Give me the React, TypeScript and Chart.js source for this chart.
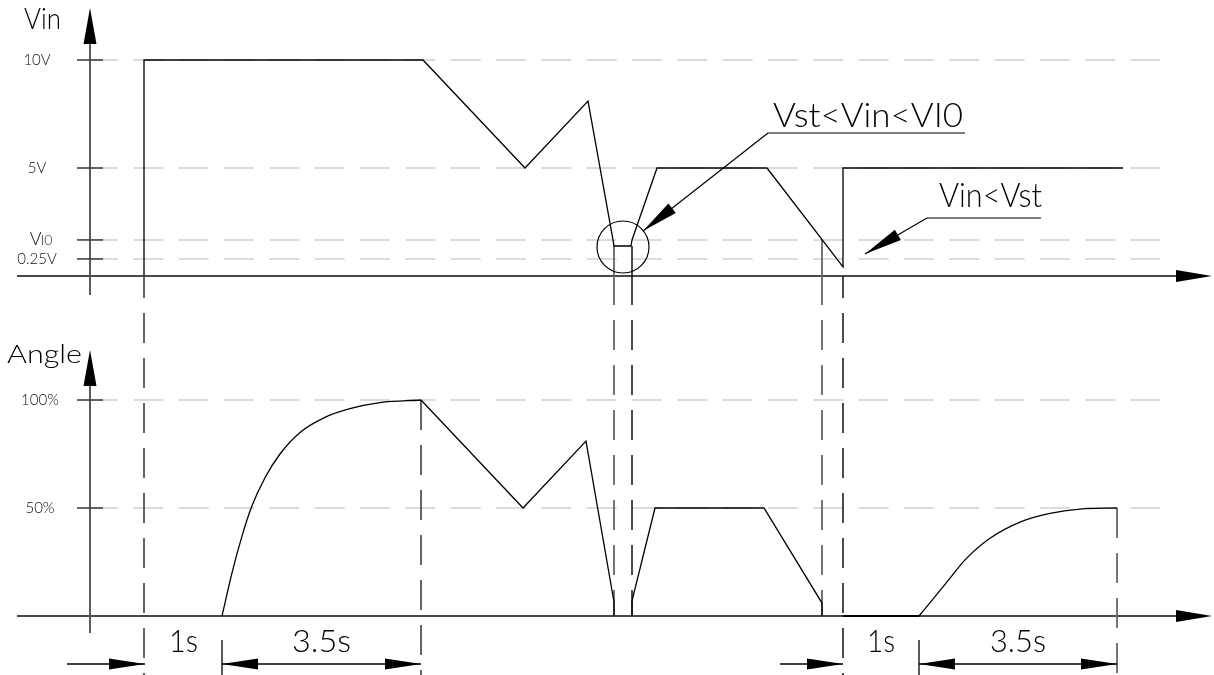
import React, { useEffect, useRef } from 'react';
import { Chart, registerables } from 'chart.js';

Chart.register(...registerables);

const W = 1214;
const H = 675;

// ---------- data (time in drawing units, Vin in drawing volts, Angle in %) ----------
const vinTime = [144, 144, 423, 525, 588, 613, 614, 631, 632, 657, 767, 843, 843, 1123];
const vinVolts = [0, 10, 10, 5, 8.1, 1.67, 1.39, 1.39, 1.67, 5, 5, 0.42, 5, 5];

const angleRise1Time = [222, 232, 242, 252, 265, 280, 300, 325, 350, 380, 421];
const angleRise1Pct = [0, 20, 37, 51, 64, 75, 85, 92, 96, 98.8, 100];

const angleFallTime = [421, 523, 586, 614, 614];
const angleFallPct = [100, 50, 81, 6.5, 0];

const angleMidTime = [632, 632, 655, 764, 822, 822];
const angleMidPct = [0, 7, 50, 50, 6, 0];

const angleFlatTime = [843, 919];
const angleFlatPct = [0, 0];

const angleRise2Time = [919, 935, 950, 965, 990, 1020, 1050, 1080, 1117];
const angleRise2Pct = [0, 9, 17.5, 26, 36, 43.5, 47.5, 49.5, 50];

const vinTickValues = [10, 5, 1.67, 0.79];
const vinTickLabels = ['10V', '5V', 'VI0', '0.25V'];
const angleTickValues = [100, 50];
const angleTickLabels = ['100%', '50%'];

// drop (projection) lines
const dropTimes = [144, 421, 614, 632, 822, 843, 1117];

// dimension groups: [start, mid, end] times and labels
const dimGroups = [
  [145, 222, 421],
  [843, 919, 1117],
];
const dimLabels = ['1s', '3.5s'];

const AXIS_T = 90;
const FONT = 'Lato, Roboto, "DejaVu Sans", sans-serif';
const WEIGHT = 300;

function toPts(xs: number[], ys: number[]) {
  return xs.map((x, i) => ({ x, y: ys[i] }));
}

function seg(ctx: CanvasRenderingContext2D, x1: number, y1: number, x2: number, y2: number) {
  ctx.beginPath();
  ctx.moveTo(x1, y1);
  ctx.lineTo(x2, y2);
  ctx.stroke();
}

function arrowHead(ctx: CanvasRenderingContext2D, tx: number, ty: number, fx: number, fy: number, len: number, hw: number) {
  const dx = fx - tx;
  const dy = fy - ty;
  const d = Math.hypot(dx, dy) || 1;
  const ux = dx / d, uy = dy / d;
  const bx = tx + ux * len, by = ty + uy * len;
  const px = -uy * hw, py = ux * hw;
  ctx.beginPath();
  ctx.moveTo(tx, ty);
  ctx.lineTo(bx + px, by + py);
  ctx.lineTo(bx - px, by - py);
  ctx.closePath();
  ctx.fill();
}

function fitText(ctx: CanvasRenderingContext2D, text: string, left: number, baseline: number, size: number, width: number) {
  ctx.save();
  ctx.font = `${WEIGHT} ${size}px ${FONT}`;
  const w = ctx.measureText(text).width || 1;
  ctx.translate(left, baseline);
  ctx.scale(width / w, 1);
  ctx.textAlign = 'left';
  ctx.textBaseline = 'alphabetic';
  ctx.fillText(text, 0, 0);
  ctx.restore();
}

const drawingPlugin = {
  id: 'drawing',
  beforeDatasetsDraw(chart: any) {
    const ctx: CanvasRenderingContext2D = chart.ctx;
    const X = (t: number) => chart.scales.x.getPixelForValue(t);
    const V = (v: number) => chart.scales.yVin.getPixelForValue(v);
    const A = (a: number) => chart.scales.yAngle.getPixelForValue(a);
    const ax = X(AXIS_T);
    ctx.save();

    // grid lines
    ctx.strokeStyle = '#cfcfcf';
    ctx.lineWidth = 1.6;
    ctx.setLineDash([30, 15.33]);
    ctx.lineDashOffset = 0;
    const gy = [...vinTickValues.map(V), ...angleTickValues.map(A)];
    gy.forEach((y) => seg(ctx, X(88), y, X(1160), y));
    ctx.setLineDash([]);

    // tick marks
    ctx.strokeStyle = '#444';
    ctx.lineWidth = 1.6;
    gy.forEach((y) => seg(ctx, ax - 13, y, ax + 13, y));

    // tick labels
    ctx.fillStyle = '#111';
    ctx.textAlign = 'center';
    ctx.textBaseline = 'middle';
    vinTickValues.forEach((v, i) => {
      const y = V(v);
      const lab = vinTickLabels[i];
      if (lab === 'VI0') {
        ctx.font = `${WEIGHT} 18px ${FONT}`;
        const w1 = ctx.measureText('V').width;
        ctx.font = `${WEIGHT} 14px ${FONT}`;
        const w2 = ctx.measureText('I0').width;
        const left = 41.5 - (w1 + w2) / 2;
        ctx.textAlign = 'left';
        ctx.font = `${WEIGHT} 18px ${FONT}`;
        ctx.fillText('V', left, y - 1);
        ctx.font = `${WEIGHT} 14px ${FONT}`;
        ctx.fillText('I0', left + w1 - 1, y + 1);
        ctx.textAlign = 'center';
      } else {
        ctx.font = `${WEIGHT} 15px ${FONT}`;
        ctx.fillText(lab, 37, y);
      }
    });
    angleTickValues.forEach((a, i) => {
      ctx.font = `${WEIGHT} 15px ${FONT}`;
      ctx.fillText(angleTickLabels[i], 40, A(a));
    });

    // axes
    ctx.strokeStyle = '#4a4a4a';
    ctx.fillStyle = '#000';
    ctx.lineWidth = 1.8;
    const v0 = V(0);
    const a0 = A(0);
    const vTip = V(10) - 52;
    const aTip = A(100) - 50;
    seg(ctx, ax, vTip + 30, ax, v0 + 19);
    seg(ctx, ax, aTip + 30, ax, a0 + 17);
    seg(ctx, X(17), v0, X(1180), v0);
    seg(ctx, X(17), a0, X(1180), a0);
    arrowHead(ctx, ax, vTip, ax, vTip + 10, 36, 6.5);
    arrowHead(ctx, ax, aTip, ax, aTip + 10, 36, 6.5);
    arrowHead(ctx, X(1212), v0, X(1200), v0, 36, 6);
    arrowHead(ctx, X(1212), a0, X(1200), a0, 36, 6);

    // drop lines
    const drops: Array<[number, number, number, number, string, number]> = [
      // [x, yTop, ySolidEnd, yBottom, color, width]
      [X(dropTimes[0]), v0, v0 + 22, H, '#555', 1.8],
      [X(dropTimes[1]), A(100), A(100), H, '#555', 1.8],
      [X(dropTimes[2]), V(1.39), v0 + 29, a0, '#666', 1.8],
      [X(dropTimes[3]), V(1.39), v0 + 29, a0, '#111', 1.5],
      [X(dropTimes[4]), V(1.67), v0 + 29, a0, '#666', 1.8],
      [X(dropTimes[5]), v0, v0 + 22, H, '#111', 1.5],
      [X(dropTimes[6]), A(50), A(50), H, '#666', 1.8],
    ];
    drops.forEach(([x, yt, ys, yb, col, lw]) => {
      ctx.strokeStyle = col;
      ctx.lineWidth = lw;
      if (ys > yt) {
        ctx.setLineDash([]);
        seg(ctx, x, yt, x, ys);
        ctx.setLineDash([30, 15]);
        ctx.lineDashOffset = 30;
        seg(ctx, x, ys, x, yb);
      } else {
        ctx.setLineDash([30, 15]);
        ctx.lineDashOffset = 0;
        seg(ctx, x, yt, x, yb);
      }
    });
    ctx.setLineDash([]);
    ctx.restore();
  },
  afterDatasetsDraw(chart: any) {
    const ctx: CanvasRenderingContext2D = chart.ctx;
    const X = (t: number) => chart.scales.x.getPixelForValue(t);
    const A = (a: number) => chart.scales.yAngle.getPixelForValue(a);
    ctx.save();
    ctx.fillStyle = '#000';
    ctx.strokeStyle = '#000';
    ctx.lineWidth = 1.2;

    // axis titles
    fitText(ctx, 'Vin', 24, 29, 30, 37);
    fitText(ctx, 'Angle', 7, 363, 25, 75);

    // circle around the dip
    ctx.beginPath();
    ctx.arc(X(623), 247, 26, 0, Math.PI * 2);
    ctx.stroke();

    // leader 1
    seg(ctx, X(643), 231, X(768), 133);
    seg(ctx, X(768), 133, X(965), 133);
    arrowHead(ctx, X(643), 231, X(768), 133, 37, 6);
    fitText(ctx, 'Vst<Vin<VI0', 773, 127, 33, 190);

    // leader 2
    seg(ctx, X(865), 254, X(927), 218);
    seg(ctx, X(927), 218, X(1041), 218);
    arrowHead(ctx, X(865), 254, X(927), 218, 38, 6);
    fitText(ctx, 'Vin<Vst', 939, 207, 33, 103);

    // dimensions
    const dimY = A(0) + 48;
    const leadIn = [78, 63];
    dimGroups.forEach((g, gi) => {
      const [s, m, e] = g.map(X);
      ctx.lineWidth = 1.3;
      seg(ctx, s - leadIn[gi], dimY, s, dimY);
      arrowHead(ctx, s, dimY, s - 10, dimY, 36, 5.5);
      seg(ctx, m, dimY - 24, m, H);
      seg(ctx, m, dimY, e, dimY);
      arrowHead(ctx, m, dimY, m + 10, dimY, 36, 5.5);
      arrowHead(ctx, e, dimY, e - 10, dimY, 36, 5.5);
      const t1w = gi === 0 ? 29 : 28;
      const t2w = gi === 0 ? 59 : 56;
      fitText(ctx, dimLabels[0], (s + m) / 2 - t1w / 2, dimY - 12, 32, t1w);
      fitText(ctx, dimLabels[1], (m + e) / 2 - t2w / 2, dimY - 12, 32, t2w);
    });
    ctx.restore();
  },
};

export default function App() {
  const ref = useRef<HTMLCanvasElement | null>(null);
  useEffect(() => {
    if (!ref.current) return;
    const base = { borderColor: '#000', borderWidth: 1.3, pointRadius: 0, fill: false };
    const chart = new Chart(ref.current, {
      type: 'line',
      data: {
        datasets: [
          { ...base, label: 'Vin', data: toPts(vinTime, vinVolts), yAxisID: 'yVin', tension: 0 },
          { ...base, label: 'Angle rise', data: toPts(angleRise1Time, angleRise1Pct), yAxisID: 'yAngle', cubicInterpolationMode: 'monotone' },
          { ...base, label: 'Angle fall', data: toPts(angleFallTime, angleFallPct), yAxisID: 'yAngle', tension: 0 },
          { ...base, label: 'Angle mid', data: toPts(angleMidTime, angleMidPct), yAxisID: 'yAngle', tension: 0 },
          { ...base, label: 'Angle flat', data: toPts(angleFlatTime, angleFlatPct), yAxisID: 'yAngle', tension: 0, borderWidth: 1.8 },
          { ...base, label: 'Angle rise 2', data: toPts(angleRise2Time, angleRise2Pct), yAxisID: 'yAngle', cubicInterpolationMode: 'monotone' },
        ] as any,
      },
      options: {
        animation: false,
        responsive: false,
        maintainAspectRatio: false,
        devicePixelRatio: 1,
        events: [],
        layout: { padding: 0, autoPadding: false } as any,
        plugins: { legend: { display: false }, tooltip: { enabled: false }, title: { display: false } },
        scales: {
          x: { type: 'linear', min: 0, max: W, display: false },
          yVin: { type: 'linear', min: -18.472, max: 12.778, display: false },
          yAngle: { type: 'linear', min: -27.31, max: 285.19, display: false },
        },
      },
      plugins: [drawingPlugin as any],
    });
    return () => chart.destroy();
  }, []);
  return (
    <div style={{ position: 'fixed', left: 0, top: 0, width: W, height: H, background: '#fff' }}>
      <canvas ref={ref} width={W} height={H} style={{ display: 'block' }} />
    </div>
  );
}
